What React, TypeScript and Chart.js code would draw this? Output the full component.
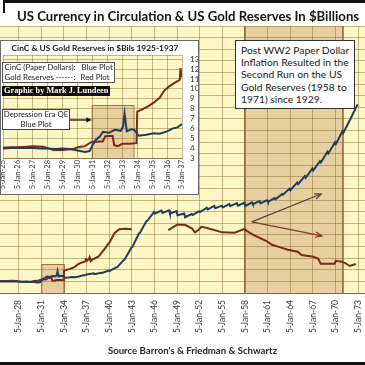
import React, { useEffect, useRef } from "react";
import { Chart, registerables } from "chart.js";
Chart.register(...registerables);

// ---------- DATA ----------
// main x-axis tick years (labels "5-Jan-YY")
const mainTickYears = [1925, 1928, 1931, 1934, 1937, 1940, 1943, 1946, 1949, 1952, 1955, 1958, 1961, 1964, 1967, 1970, 1973];
const insetTickYears = [1925, 1926, 1927, 1928, 1929, 1930, 1931, 1932, 1933, 1934, 1935, 1936, 1937];
const insetYTicks = [3, 4, 5, 6, 7, 8, 9, 10, 11, 12, 13];

// Currency in circulation ($B), 1925-1937 detail
const blueEarlyYears = [1925.0, 1925.5, 1926.0, 1926.5, 1927.0, 1927.5, 1928.0, 1928.5, 1929.0, 1929.5, 1930.0, 1930.5, 1930.8, 1931.0, 1931.2, 1931.5, 1931.7, 1932.1, 1932.5, 1932.9, 1933.05, 1933.15, 1933.3, 1933.6, 1933.8, 1934.1, 1934.6, 1935.1, 1935.5, 1936.0, 1936.4, 1936.7, 1937.0];
const blueEarlyValues = [3.95, 4.0, 4.05, 4.0, 4.0, 3.95, 3.95, 3.9, 3.95, 3.9, 3.75, 3.6, 3.7, 4.3, 4.8, 5.2, 5.65, 5.55, 5.85, 5.75, 6.2, 7.5, 5.7, 5.9, 5.85, 5.25, 5.35, 5.5, 5.45, 5.7, 6.0, 6.1, 6.45];

// Currency in circulation ($B), 1937-1972: January low and December high
const blueLateYears = [1937, 1938, 1939, 1940, 1941, 1942, 1943, 1944, 1945, 1946, 1947, 1948, 1949, 1950, 1951, 1952, 1953, 1954, 1955, 1956, 1957, 1958, 1959, 1960, 1961, 1962, 1963, 1964, 1965, 1966, 1967, 1968, 1969, 1970, 1971, 1972];
const blueJanValues = [6.4, 6.5, 6.9, 7.6, 8.9, 11.6, 15.8, 20.7, 24.9, 27.4, 27.6, 27.4, 26.8, 26.1, 26.9, 27.9, 28.8, 29.2, 29.5, 29.9, 30.1, 30.0, 30.6, 30.9, 31.4, 32.3, 33.9, 35.5, 37.5, 39.7, 42.2, 45.0, 48.1, 51.3, 55.2, 59.7];
const blueDecValues = [6.8, 7.0, 7.7, 8.8, 11.4, 15.6, 20.5, 24.8, 27.9, 28.4, 28.5, 28.2, 27.4, 27.2, 28.2, 29.4, 30.0, 30.1, 30.6, 31.0, 31.1, 31.2, 31.7, 32.0, 32.7, 34.1, 36.0, 38.1, 40.3, 42.9, 45.4, 48.7, 51.9, 55.8, 59.7, 65.0];

// Gold reserves ($B), 1925-1937 detail
const redEarlyYears = [1925.0, 1925.5, 1926.0, 1926.6, 1927.0, 1927.7, 1928.0, 1928.4, 1929.0, 1929.7, 1930.0, 1930.5, 1930.9, 1931.7, 1931.85, 1932.35, 1932.45, 1932.7, 1933.0, 1933.5, 1933.95, 1934.0, 1934.3, 1934.8, 1935.1, 1935.5, 1935.8, 1936.1, 1936.5, 1936.85, 1936.9, 1936.95, 1937.0];
const redEarlyValues = [4.05, 4.1, 4.1, 4.15, 4.2, 4.15, 4.0, 3.8, 3.8, 3.9, 4.1, 4.2, 4.6, 4.7, 5.2, 5.25, 4.3, 4.2, 4.45, 4.45, 4.5, 7.7, 7.9, 8.3, 8.6, 9.1, 9.8, 10.2, 10.6, 10.9, 12.1, 11.3, 11.2];

// Gold reserves ($B), 1937-1972 (null = gap in the plot)
const redLateYears = [1937.3, 1937.4, 1937.55, 1937.8, 1938.0, 1938.6, 1939.45, 1940.1, 1940.7, 1941.33, 1942.2, 1943.0, 1943.05, 1947.83, 1949.08, 1950.13, 1951.0, 1951.38, 1951.8, 1952.22, 1952.85, 1955.0, 1956.62, 1957.87, 1959.1, 1960.8, 1961.6, 1962.5, 1963.7, 1965.0, 1965.5, 1967.07, 1967.7, 1968.05, 1969.9, 1970.05, 1970.8, 1971.3, 1971.9, 1972.7];
const redLateValues = [11.6, 12.3, 11.0, 11.6, 11.8, 12.6, 15.4, 17.7, 20.6, 22.0, 22.1, 22.0, null, 21.7, 23.6, 23.4, 22.2, 20.9, 21.6, 22.8, 22.5, 20.9, 20.8, 22.0, 20.0, 18.0, 16.6, 15.9, 14.9, 14.2, 13.1, 12.5, 11.9, 10.1, 10.1, 11.1, 10.8, 10.3, 9.3, 10.0];

// shaded periods and arrows (data space)
const mainShade = { from: 1958, to: 1971 };
const mainQeBox = { from: 1931, to: 1934, top: 10 };
const insetQeBox = { from: 1930.95, to: 1933.75, top: 8.37 };
const arrowUp = { x0: 1958.9, y0: 24.5, x1: 1968.1, y1: 34.1 };
const arrowDown = { x0: 1958.9, y0: 24.5, x1: 1968.2, y1: 19.7 };
const insetArrow = { x0: 1929.49, y0: 6.85, x1: 1930.95, y1: 6.85 };

// ---------- STYLE ----------
const YELLOW = "#fcf7c5";
const TAN = "#e8cf9f";
const GRID = "rgba(130,100,40,0.45)";
const BLUE = "#1f3d5c";
const RED = "#7c2a18";
const FONT = 'Lato, "Open Sans", sans-serif';

const yearLabel = (v: number) => "5-Jan-" + String(Math.round(v)).slice(2);

function drawArrow(ctx: CanvasRenderingContext2D, x0: number, y0: number, x1: number, y1: number, color: string, filled: boolean) {
  const ang = Math.atan2(y1 - y0, x1 - x0);
  const len = filled ? 6 : 7;
  const spread = filled ? 0.45 : 0.4;
  ctx.save();
  ctx.strokeStyle = color;
  ctx.fillStyle = color;
  ctx.lineWidth = filled ? 1.3 : 1.2;
  ctx.beginPath();
  ctx.moveTo(x0, y0);
  ctx.lineTo(filled ? x1 - Math.cos(ang) * len * 0.8 : x1, filled ? y1 - Math.sin(ang) * len * 0.8 : y1);
  ctx.stroke();
  ctx.beginPath();
  ctx.moveTo(x1 - Math.cos(ang - spread) * len, y1 - Math.sin(ang - spread) * len);
  ctx.lineTo(x1, y1);
  ctx.lineTo(x1 - Math.cos(ang + spread) * len, y1 - Math.sin(ang + spread) * len);
  if (filled) {
    ctx.closePath();
    ctx.fill();
  } else {
    ctx.stroke();
  }
  ctx.restore();
}

const mainPlugin = {
  id: "mainDecor",
  beforeDraw(chart: any) {
    const { ctx, chartArea: a, scales } = chart;
    const x = scales.x, y = scales.y;
    ctx.save();
    ctx.fillStyle = "#ffffff";
    ctx.fillRect(0, 0, chart.width, chart.height);
    ctx.fillStyle = YELLOW;
    ctx.fillRect(a.left, a.top, a.right - a.left, a.bottom - a.top);
    const sx0 = x.getPixelForValue(mainShade.from), sx1 = x.getPixelForValue(mainShade.to);
    ctx.fillStyle = TAN;
    ctx.fillRect(sx0, a.top, sx1 - sx0, a.bottom - a.top);
    ctx.strokeStyle = "#8b5e34";
    ctx.lineWidth = 1.5;
    ctx.beginPath();
    ctx.moveTo(sx0, a.top); ctx.lineTo(sx0, a.bottom);
    ctx.moveTo(sx1, a.top); ctx.lineTo(sx1, a.bottom);
    ctx.stroke();
    const bx0 = x.getPixelForValue(mainQeBox.from), bx1 = x.getPixelForValue(mainQeBox.to);
    const by = y.getPixelForValue(mainQeBox.top);
    ctx.fillStyle = TAN;
    ctx.fillRect(bx0, by, bx1 - bx0, a.bottom - by);
    ctx.strokeStyle = "#a07040";
    ctx.lineWidth = 1;
    ctx.strokeRect(bx0 + 0.5, by + 0.5, bx1 - bx0, a.bottom - by);
    ctx.restore();
  },
  afterDatasetsDraw(chart: any) {
    const { ctx, scales } = chart;
    const x = scales.x, y = scales.y;
    drawArrow(ctx, x.getPixelForValue(arrowUp.x0), y.getPixelForValue(arrowUp.y0), x.getPixelForValue(arrowUp.x1), y.getPixelForValue(arrowUp.y1), "#4d4436", false);
    drawArrow(ctx, x.getPixelForValue(arrowDown.x0), y.getPixelForValue(arrowDown.y0), x.getPixelForValue(arrowDown.x1), y.getPixelForValue(arrowDown.y1), "#7b3a26", false);
  },
};

const insetPlugin = {
  id: "insetDecor",
  beforeDraw(chart: any) {
    const { ctx, chartArea: a, scales } = chart;
    const x = scales.x, y = scales.y;
    ctx.save();
    ctx.fillStyle = "#ffffff";
    ctx.fillRect(0, 0, chart.width, chart.height);
    ctx.fillStyle = YELLOW;
    ctx.fillRect(a.left, a.top, a.right - a.left, a.bottom - a.top);
    const bx0 = x.getPixelForValue(insetQeBox.from), bx1 = x.getPixelForValue(insetQeBox.to);
    const by = y.getPixelForValue(insetQeBox.top);
    ctx.fillStyle = TAN;
    ctx.fillRect(bx0, by, bx1 - bx0, a.bottom - by);
    ctx.strokeStyle = "#a07848";
    ctx.lineWidth = 1;
    ctx.strokeRect(bx0 + 0.5, by + 0.5, bx1 - bx0, a.bottom - by);
    ctx.restore();
  },
  afterDatasetsDraw(chart: any) {
    const { ctx, scales } = chart;
    const x = scales.x, y = scales.y;
    drawArrow(ctx, x.getPixelForValue(insetArrow.x0), y.getPixelForValue(insetArrow.y0), x.getPixelForValue(insetArrow.x1), y.getPixelForValue(insetArrow.y1), "#111111", true);
  },
};

function mainBlue() {
  const pts: { x: number; y: number | null }[] = blueEarlyYears.map((x, i) => ({ x, y: blueEarlyValues[i] }));
  blueLateYears.forEach((yr, i) => {
    pts.push({ x: yr + 0.06, y: blueJanValues[i] });
    pts.push({ x: yr + 0.94, y: blueDecValues[i] });
  });
  return pts;
}
function mainRed() {
  const pts: { x: number; y: number | null }[] = redEarlyYears.map((x, i) => ({ x, y: redEarlyValues[i] }));
  redLateYears.forEach((x, i) => pts.push({ x, y: redLateValues[i] }));
  return pts;
}

export default function App() {
  const mainRef = useRef<HTMLCanvasElement>(null);
  const insetRef = useRef<HTMLCanvasElement>(null);

  useEffect(() => {
    document.body.style.margin = "0";
    const main = new Chart(mainRef.current as HTMLCanvasElement, {
      type: "line",
      data: {
        datasets: [
          { data: mainBlue() as any, borderColor: BLUE, borderWidth: 2, pointRadius: 0, tension: 0, spanGaps: false },
          { data: mainRed() as any, borderColor: RED, borderWidth: 2, pointRadius: 0, tension: 0, spanGaps: false },
        ],
      },
      options: {
        animation: false,
        responsive: false,
        events: [],
        layout: { padding: { top: 26, left: 0, right: 0, bottom: 0 }, autoPadding: false } as any,
        plugins: { legend: { display: false }, title: { display: false }, tooltip: { enabled: false } },
        scales: {
          x: {
            type: "linear",
            min: 1925.5,
            max: 1974,
            afterBuildTicks: (s: any) => { s.ticks = mainTickYears.map((v) => ({ value: v })); },
            afterFit: (s: any) => { s.height = 72; },
            ticks: { autoSkip: false, minRotation: 90, maxRotation: 90, padding: 7, color: "#3a3a3a", font: { family: FONT, size: 8.5 }, callback: (v: any) => yearLabel(Number(v)) },
            grid: { color: GRID, drawTicks: false, lineWidth: 1 },
            border: { display: true, color: "#7d6a45" },
          },
          y: {
            min: 0,
            max: 92,
            afterFit: (s: any) => { s.width = 0; },
            ticks: { display: false, stepSize: 4, autoSkip: false },
            grid: { color: GRID, drawTicks: false, lineWidth: 1 },
            border: { display: false },
          },
        },
      },
      plugins: [mainPlugin],
    });

    const inset = new Chart(insetRef.current as HTMLCanvasElement, {
      type: "line",
      data: {
        datasets: [
          { data: blueEarlyYears.map((x, i) => ({ x, y: blueEarlyValues[i] })) as any, borderColor: BLUE, borderWidth: 2, pointRadius: 0, tension: 0 },
          { data: redEarlyYears.map((x, i) => ({ x, y: redEarlyValues[i] })) as any, borderColor: RED, borderWidth: 2, pointRadius: 0, tension: 0 },
        ],
      },
      options: {
        animation: false,
        responsive: false,
        events: [],
        layout: { padding: { top: 14, left: 2, right: 0, bottom: 0 }, autoPadding: false } as any,
        plugins: { legend: { display: false }, title: { display: false }, tooltip: { enabled: false } },
        scales: {
          x: {
            type: "linear",
            min: 1925,
            max: 1937,
            afterBuildTicks: (s: any) => { s.ticks = insetTickYears.map((v) => ({ value: v })); },
            afterFit: (s: any) => { s.height = 36; },
            ticks: { autoSkip: false, minRotation: 90, maxRotation: 90, padding: 2, color: "#3a3a3a", font: { family: FONT, size: 7.5 }, callback: (v: any) => yearLabel(Number(v)) },
            grid: { color: GRID, drawTicks: false },
            border: { display: true, color: "#8a7a55" },
          },
          y: {
            position: "right",
            min: 3,
            max: 13.43,
            afterBuildTicks: (s: any) => { s.ticks = insetYTicks.map((v) => ({ value: v })).concat([{ value: 13.43 }]); },
            afterFit: (s: any) => { s.width = 16; },
            ticks: { autoSkip: false, padding: 8, color: "#333333", font: { family: FONT, size: 8 }, callback: (v: any) => (Math.abs(Number(v) - Math.round(Number(v))) < 0.01 ? String(Math.round(Number(v))) : "") },
            grid: { color: GRID, drawTicks: false },
            border: { display: false },
          },
        },
      },
      plugins: [insetPlugin],
    });

    return () => {
      main.destroy();
      inset.destroy();
    };
  }, []);

  const abs = (o: React.CSSProperties): React.CSSProperties => ({ position: "absolute", whiteSpace: "nowrap", ...o });

  return (
    <div style={{ position: "fixed", left: 0, top: 0, width: 365, height: 365, overflow: "hidden", background: "#fff", fontFamily: FONT }}>
      <canvas ref={mainRef} width={386} height={365} style={{ position: "absolute", left: -11, top: 0, width: 386, height: 365 }} />

      {/* frame */}
      <div style={abs({ left: 3, top: 0, width: 362, height: 2.5, background: "#111" })} />
      <div style={abs({ left: 2.5, top: 0, width: 2, height: 13, background: "#111" })} />
      <div style={abs({ left: 0, top: 361.5, width: 365, height: 4, background: "#111" })} />

      {/* main title */}
      <div style={abs({ left: 17, top: 8, fontSize: 13.2, lineHeight: "16px", fontWeight: 700, color: "#141414" })}>
        US Currency in Circulation &amp; US Gold Reserves In $Billions
      </div>

      {/* annotation */}
      <div style={abs({ left: 235, top: 40, width: 120, height: 69, boxSizing: "border-box", border: "1px solid #333", background: "#fff", padding: "3px 0 0 5px", fontSize: 10.3, lineHeight: "12.2px", color: "#222", whiteSpace: "normal" })}>
        Post WW2 Paper Dollar<br />Inflation Resulted in the<br />Second Run on the US<br />Gold Reserves (1958 to<br />1971) since 1929.
      </div>

      {/* source */}
      <div style={abs({ left: 192.5, top: 344.5, transform: "translateX(-50%)", fontSize: 9.6, lineHeight: "11px", fontWeight: 700, color: "#262626" })}>
        Source Barron's &amp; Friedman &amp; Schwartz
      </div>

      {/* inset */}
      <div style={abs({ left: 0, top: 40, width: 199, height: 155, boxSizing: "border-box", border: "1px solid #6b6b6b", background: "#fff" })}>
        <canvas ref={insetRef} width={197} height={153} style={{ position: "absolute", left: 0, top: 0, width: 197, height: 153 }} />
      </div>
      <div style={abs({ left: 95, top: 43, transform: "translateX(-50%)", fontSize: 8.4, lineHeight: "10px", fontWeight: 700, color: "#1a1a1a" })}>
        CinC &amp; US Gold Reserves in $Bils 1925-1937
      </div>
      <div style={abs({ left: 2, top: 62, width: 113, height: 21, boxSizing: "border-box", border: "1px solid #555", background: "#fff", fontSize: 7.9, lineHeight: "9.5px", color: "#222" })}>
        <div style={abs({ left: 1.5, top: 0 })}>CinC (Paper Dollars):</div>
        <div style={abs({ left: 78.5, top: 0 })}>Blue Plot</div>
        <div style={abs({ left: 1.5, top: 9.5 })}>Gold Reserves ------:</div>
        <div style={abs({ left: 77.5, top: 9.5 })}>Red Plot</div>
      </div>
      <div style={abs({ left: 2, top: 86, width: 108, height: 10, background: "#0d0d0d", color: "#fff", fontFamily: '"Liberation Serif", "DejaVu Serif", serif', fontWeight: 700, fontSize: 8.3, lineHeight: "10px", paddingLeft: 2, boxSizing: "border-box" })}>
        Graphic by Mark J. Lundeen
      </div>
      <div style={abs({ left: 2, top: 109, width: 68, height: 21, boxSizing: "border-box", border: "1px solid #444", background: "#fff", fontSize: 7.8, lineHeight: "9.6px", color: "#222", textAlign: "center", paddingTop: 0, whiteSpace: "normal" })}>
        Depression Era QE<br />Blue Plot
      </div>
    </div>
  );
}
